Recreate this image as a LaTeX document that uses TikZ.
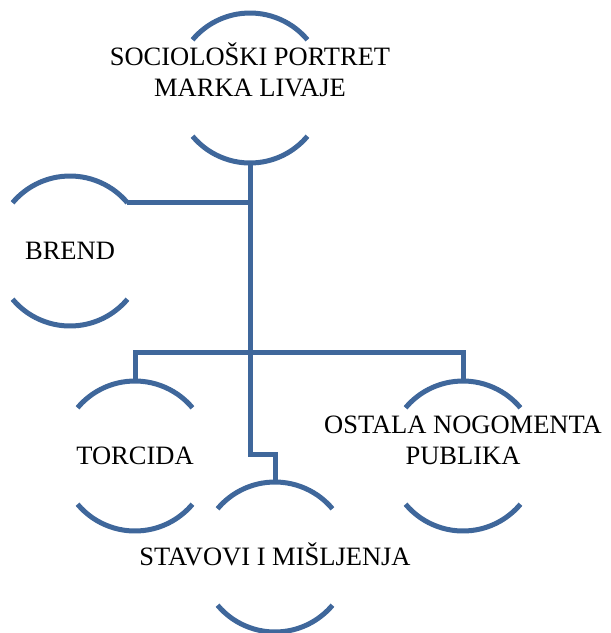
\documentclass[tikz,border=0pt]{standalone}
\usepackage{fontspec}
\setmainfont{Liberation Serif}
\definecolor{hblue}{RGB}{63,103,155}
\begin{document}
\begin{tikzpicture}[x=1pt,y=1pt,
  ring/.style={circle,draw=none,minimum size=150pt,inner sep=0pt,outer sep=0pt},
  lbl/.style={align=center,inner sep=0pt,font=\fontsize{26.5}{31}\selectfont,text height=17.5pt,text depth=0pt},
  conn/.style={draw=hblue,line width=5pt,line join=miter}]
\useasboundingbox (0,0) rectangle (611,-633);
\node[ring] (top) at (250,-88) {};
\node[ring] (brend) at (70,-251) {};
\node[ring] (torc) at (135,-456) {};
\node[ring] (osta) at (463,-456) {};
\node[ring] (stav) at (275,-557) {};
\foreach \n in {top,brend,torc,osta,stav}{
  \draw[conn] (\n.40) arc[start angle=40,end angle=140,radius=75pt];
  \draw[conn] (\n.220) arc[start angle=220,end angle=320,radius=75pt];
}
\node[lbl] (ttop) at (top) {SOCIOLOŠKI PORTRET\\MARKA LIVAJE};
\node[lbl] (tbrend) at (brend) {BREND};
\node[lbl] (ttorc) at (torc) {TORCIDA};
\node[lbl] (tosta) at (osta) {OSTALA NOGOMENTA\\PUBLIKA};
\node[lbl] (tstav) at (stav) {STAVOVI I MIŠLJENJA};
\draw[conn] (top.south) |- ([yshift=28pt]stav.north) -- (stav.north);
\draw[conn] (brend.40) -- (brend.40 -| top.south);
\draw[conn] (torc.north) -- ++(0,29) -| (osta.north);
\end{tikzpicture}
\end{document}
